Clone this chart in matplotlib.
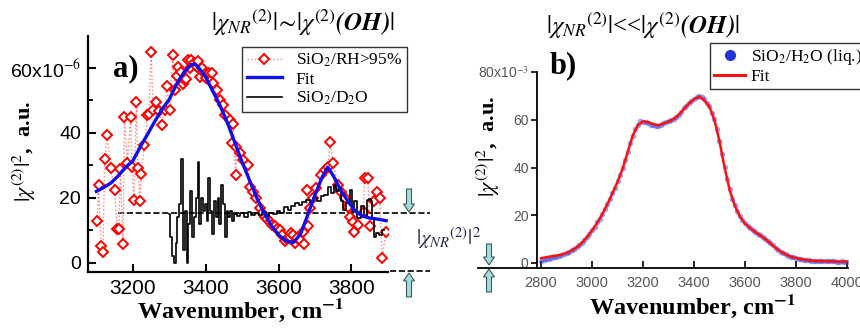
import numpy as np
import matplotlib
matplotlib.use("Agg")
from matplotlib import pyplot as plt
from matplotlib.patches import FancyArrow
from matplotlib.lines import Line2D
from matplotlib.transforms import IdentityTransform

plt.rcParams['mathtext.fontset'] = 'stix'
plt.rcParams['font.family'] = ['Liberation Serif', 'DejaVu Serif']

# ---- panel a: SiO2 / RH>95% ----
rh_x = [3102, 3106, 3113, 3118, 3123, 3130, 3139, 3150, 3157, 3162, 3166, 3173, 3177, 3185,
        3194, 3198, 3203, 3210, 3214, 3219, 3223, 3232, 3240, 3244, 3250, 3256, 3264, 3272,
        3280, 3287, 3294, 3301, 3310, 3316, 3320, 3325, 3333, 3338, 3342, 3347, 3351, 3356,
        3361, 3368, 3375, 3380, 3384, 3391, 3397, 3402, 3408, 3412, 3416, 3420, 3430, 3439,
        3448, 3452, 3466, 3471, 3475, 3482, 3484, 3493, 3503, 3516, 3521, 3530, 3539, 3548,
        3555, 3562, 3568, 3576, 3582, 3589, 3596, 3603, 3610, 3617, 3623, 3630, 3635, 3639,
        3644, 3650, 3658, 3667, 3671, 3678, 3681, 3687, 3695, 3703, 3717, 3726, 3735, 3742,
        3749, 3763, 3772, 3781, 3790, 3795, 3804, 3808, 3817, 3833, 3836, 3845, 3850, 3863,
        3869, 3877, 3884, 3895]
rh_y = [13.0, 24.0, 5.3, 3.5, 32.0, 39.4, 29.3, 22.5, 10.5, 10.5, 28.9, 5.8, 45.0, 30.8,
        45.0, 29.6, 19.4, 49.6, 29.2, 18.9, 27.3, 36.3, 45.5, 45.8, 65.0, 47.1, 49.6, 46.6,
        42.5, 47.1, 54.3, 47.1, 64.0, 53.2, 57.5, 60.2, 58.9, 55.0, 56.3, 56.5, 62.5, 60.0,
        62.5, 61.5, 60.4, 62.0, 57.3, 59.9, 58.0, 56.8, 58.5, 56.0, 58.4, 55.3, 53.2, 50.2,
        48.6, 45.5, 44.0, 36.8, 42.7, 27.1, 35.8, 33.7, 31.7, 30.2, 23.5, 21.9, 19.9, 16.8,
        15.5, 14.2, 13.5, 12.7, 11.8, 11.2, 10.5, 10.2, 8.5, 6.6, 7.5, 8.1, 9.1, 8.6,
        6.1, 7.8, 7.1, 9.6, 5.7, 22.5, 11.2, 16.8, 20.0, 23.0, 27.1, 28.6, 29.6, 37.3,
        30.7, 24.0, 21.9, 19.9, 17.3, 14.2, 12.7, 9.6, 11.7, 15.8, 26.1, 26.1, 11.2, 18.9,
        21.9, 19.9, 1.6, 9.6]

fit_a_x = [3100, 3120, 3140, 3160, 3180, 3200, 3220, 3240, 3260, 3280, 3300, 3320, 3340, 3360,
           3370, 3380, 3400, 3420, 3440, 3460, 3480, 3500, 3520, 3540, 3560, 3580, 3600, 3620,
           3640, 3660, 3680, 3700, 3720, 3735, 3750, 3770, 3790, 3810, 3830, 3850, 3870, 3895]
fit_a_y = [22.0, 23.2, 24.6, 26.8, 29.4, 31.4, 35.6, 39.5, 43.5, 47.2, 50.3, 55.0, 58.6, 61.0,
           61.2, 60.2, 57.2, 52.7, 48.3, 43.0, 37.0, 31.0, 25.5, 20.0, 15.4, 11.5, 8.6, 6.8,
           6.2, 8.8, 14.8, 21.0, 26.5, 29.5, 26.8, 22.5, 19.0, 16.0, 14.4, 13.8, 13.5, 13.0]

d2o_x = [3300, 3305, 3310, 3315, 3320, 3325, 3330, 3335, 3340, 3345, 3350, 3355, 3360, 3365,
         3370, 3375, 3380, 3385, 3390, 3395, 3400, 3405, 3410, 3415, 3420, 3425, 3430, 3435,
         3440, 3445, 3450, 3455, 3460, 3465, 3470, 3475, 3480, 3490, 3500, 3510, 3520, 3530,
         3540, 3550, 3560, 3570, 3580, 3590, 3600, 3610, 3620, 3630, 3640, 3650, 3660, 3670,
         3680, 3690, 3700, 3710, 3720, 3730, 3740, 3750, 3755, 3760, 3770, 3775, 3780, 3790,
         3800, 3805, 3810, 3820, 3830, 3840, 3845, 3850, 3855, 3860, 3865, 3870, 3880, 3890]
d2o_y = [15.0, 8.0, 2.0, 0.0, 6.0, 14.0, 18.0, 32.0, 4.0, 16.0, 0.0, 12.0, 22.0, 8.0,
         14.0, 20.0, 31.0, 12.0, 20.0, 16.0, 18.0, 13.0, 26.0, 16.0, 9.0, 19.0, 14.0, 20.0,
         12.0, 24.0, 18.0, 8.0, 16.0, 14.0, 16.0, 13.0, 15.0, 14.5, 15.5, 14.2, 15.8, 14.6,
         15.4, 14.8, 15.6, 14.4, 15.2, 15.0, 16.0, 15.2, 17.2, 16.4, 17.6, 18.5, 17.8, 18.8,
         19.4, 18.6, 20.0, 19.2, 20.6, 21.0, 23.5, 21.5, 24.0, 22.0, 23.0, 19.0, 16.3, 18.5,
         22.5, 15.8, 19.0, 13.8, 17.5, 14.2, 19.4, 19.6, 19.2, 13.8, 8.1, 9.2, 8.6, 10.0]

NR_LEVEL = 15.5

# ---- panel b: SiO2 / H2O (liq.) ----
h2o_x = np.arange(2800, 4001, 10)
h2o_y = [1.0, 1.3, 1.5, 1.8, 2.0, 2.4, 2.6, 3.0, 3.3, 3.8, 4.3, 4.8, 5.4, 6.0, 6.8, 7.6,
         8.5, 9.6, 11.0, 12.2, 13.8, 15.2, 17.0, 18.6, 20.6, 22.5, 24.8, 27.0, 29.4, 31.6,
         34.2, 36.8, 39.8, 43.0, 46.6, 50.2, 53.4, 56.0, 58.0, 59.4, 59.0, 58.9, 58.5, 58.0,
         57.6, 57.2, 57.5, 58.0, 58.6, 59.0, 59.6, 59.9, 60.5, 61.2, 62.2, 63.2, 64.8, 65.9,
         67.0, 67.9, 68.8, 69.5, 70.0, 69.6, 68.6, 67.0, 65.8, 63.0, 60.4, 56.0, 51.2, 45.6,
         40.2, 35.0, 30.8, 27.0, 24.2, 21.6, 19.6, 17.8, 16.6, 15.4, 14.5, 13.8, 13.0, 12.3,
         11.8, 11.0, 10.2, 9.4, 8.4, 7.4, 6.4, 5.6, 4.8, 4.2, 3.6, 3.1, 2.6, 2.3, 2.0, 1.8,
         1.6, 1.4, 1.3, 1.1, 1.0, 0.9, 0.9, 0.8, 0.8, 0.8, 0.7, 0.7, 0.8, 0.7, 0.6, 0.6,
         0.7, 0.6, 0.5]

fit_b_x = np.arange(2800, 4001, 20)
fit_b_y = [2.0, 2.4, 2.8, 3.1, 3.5, 4.2, 5.2, 6.6, 8.4, 10.8, 13.6, 16.8, 20.4, 24.6, 29.2,
           34.0, 39.5, 46.5, 53.5, 57.8, 59.3, 59.0, 58.2, 57.7, 58.4, 59.2, 60.3, 62.0, 64.5,
           66.8, 68.6, 69.7, 68.2, 65.5, 60.0, 51.0, 40.0, 30.5, 24.0, 19.5, 16.5, 14.6, 13.0,
           11.6, 10.0, 8.2, 6.3, 4.8, 3.6, 2.7, 2.1, 1.6, 1.3, 1.0, 0.9, 0.8, 0.7, 0.7, 0.6,
           0.6, 0.6]

a_yticks = [0, 20, 40, 60]
a_ylabels = ['0', '20', '40', '60x10$^{-6}$']
a_xticks = [3200, 3400, 3600, 3800]
b_yticks = [0, 20, 40, 60, 80]
b_ylabels = ['0', '20', '40', '60', '80x10$^{-3}$']
b_xticks = [2800, 3000, 3200, 3400, 3600, 3800, 4000]

tickfont = {'family': 'Liberation Sans'}

fig = plt.figure(figsize=(8.6, 3.29), dpi=100)

# ===== panel a =====
ax = fig.add_axes([0.1023, 0.1733, 0.3488, 0.717])
ax.plot([3160, 4015], [NR_LEVEL, NR_LEVEL], '--', color='k', lw=1.2, clip_on=False, zorder=1)
ax.plot([3905, 4015], [-2.6, -2.6], '--', color='k', lw=1.2, clip_on=False, zorder=1)
ax.plot(rh_x, rh_y, ls=':', color='#ff8080', lw=1.0, marker='D', ms=5.5, mfc='white',
        mec='red', mew=1.4, label='SiO$_2$/RH>95%', zorder=2)
ax.plot(fit_a_x, fit_a_y, color='#1010ee', lw=2.4, label='Fit', zorder=4)
ax.plot(d2o_x, d2o_y, color='k', lw=1.2, drawstyle='steps-mid', label='SiO$_2$/D$_2$O', zorder=3)

ax.set_xlim(3077, 3900)
ax.set_ylim(-2.8, 69.8)
for s in ['top', 'right']:
    ax.spines[s].set_visible(False)
for s in ['left', 'bottom']:
    ax.spines[s].set_linewidth(1.6)
ax.set_yticks(a_yticks)
ax.set_yticklabels(a_ylabels, fontdict=tickfont)
ax.set_yticks([10, 30, 50], minor=True)
ax.set_xticks(a_xticks)
ax.set_xticklabels([str(v) for v in a_xticks], fontdict=tickfont)
ax.tick_params(which='major', direction='in', length=6, width=1.5, labelsize=14, pad=5)
ax.tick_params(which='minor', direction='in', length=3.5, width=1.3)
ax.tick_params(axis='x', labelsize=15)

ax.set_xlabel('Wavenumber, cm$^{\\mathbf{-1}}$', fontsize=17.5, fontweight='bold')
ax.xaxis.set_label_coords(0.507, -0.105)
ax.set_ylabel('$|\\chi^{(2)}|^2$,  a.u.', fontsize=16, fontweight='bold')
ax.yaxis.set_label_coords(-0.167, 0.51)
ax.text(0.085, 0.86, 'a)', transform=ax.transAxes, fontsize=22, fontweight='bold',
        ha='left', va='center')

leg = ax.legend(loc='upper left', bbox_to_anchor=(0.513, 0.955), fontsize=12.5,
                frameon=True, fancybox=False, edgecolor='#333333', framealpha=1,
                handlelength=2.0, handletextpad=0.8, borderpad=0.3, labelspacing=0.12,
                borderaxespad=0)
leg.get_frame().set_linewidth(1.0)

# ===== panel b =====
bx = fig.add_axes([0.6244, 0.1854, 0.3616, 0.5957])
bx.plot(h2o_x, h2o_y, 'o', color='#2233dd', ms=4, alpha=0.45, mew=0, zorder=2)
bx.plot(fit_b_x, fit_b_y, color='#ff1010', lw=1.8, zorder=3)
bx.plot([2553, 2784], [-2.1, -2.1], color='k', lw=1.3, clip_on=False)

bx.set_xlim(2784, 4004)
bx.set_ylim(-2.1, 80)
for s in ['top', 'right']:
    bx.spines[s].set_visible(False)
for s in ['left', 'bottom']:
    bx.spines[s].set_linewidth(1.3)
bx.set_yticks(b_yticks)
bx.set_yticklabels(b_ylabels, fontdict=tickfont)
bx.set_xticks(b_xticks)
bx.set_xticklabels([str(v) for v in b_xticks], fontdict=tickfont)
bx.tick_params(axis='y', direction='out', length=4, width=1.2, labelsize=10,
               labelcolor='#555555', pad=2)
bx.tick_params(axis='x', direction='in', length=5, width=1.2, labelsize=10.5,
               labelcolor='#555555', pad=6)

bx.set_xlabel('Wavenumber, cm$^{\\mathbf{-1}}$', fontsize=17.5, fontweight='bold')
bx.xaxis.set_label_coords(0.50, -0.125)
bx.set_ylabel('$|\\chi^{(2)}|^2$,  a.u.', fontsize=16, fontweight='bold')
bx.yaxis.set_label_coords(-0.113, 0.62)
bx.text(0.04, 1.03, 'b)', transform=bx.transAxes, fontsize=22, fontweight='bold',
        ha='left', va='center')

hb = [Line2D([], [], marker='o', color='#2233dd', ls='none', ms=7),
      Line2D([], [], color='#ff1010', lw=2.2)]
legb = bx.legend(hb, ['SiO$_2$/H$_2$O (liq.)', 'Fit'], loc='upper left',
                 bbox_to_anchor=(0.556, 1.15), fontsize=12.5, frameon=True, fancybox=False,
                 edgecolor='#333333', framealpha=1, handlelength=1.8, handletextpad=0.3,
                 borderpad=0.25, labelspacing=0.1, borderaxespad=0)
legb.get_frame().set_linewidth(1.0)

# ===== titles and NR annotation =====
fig.text(0.352, 0.93, '$|\\chi_{NR}{}^{(2)}|\\!\\sim\\!|\\chi^{(2)}\\mathbfit{(OH)}|$',
         fontsize=18, ha='center', va='center')
fig.text(0.748, 0.922, '$|\\chi_{NR}{}^{(2)}|$<<$|\\chi^{(2)}\\mathbfit{(OH)}|$',
         fontsize=18, ha='center', va='center')
fig.text(0.521, 0.275, '$|\\chi_{NR}{}^{(2)}|^2$', fontsize=15, ha='center', va='center',
         color='#202050')

for (x, tail, tip) in [(409, 140, 117), (409, 32, 56), (489, 85, 64), (489, 37, 60)]:
    arr = FancyArrow(x, tail, 0, tip - tail, width=5, head_width=11, head_length=8,
                     length_includes_head=True, transform=IdentityTransform(),
                     facecolor='#a8dcdc', edgecolor='#3a5a5a', lw=0.8)
    fig.add_artist(arr)

fig.savefig('out.png', dpi=100)
